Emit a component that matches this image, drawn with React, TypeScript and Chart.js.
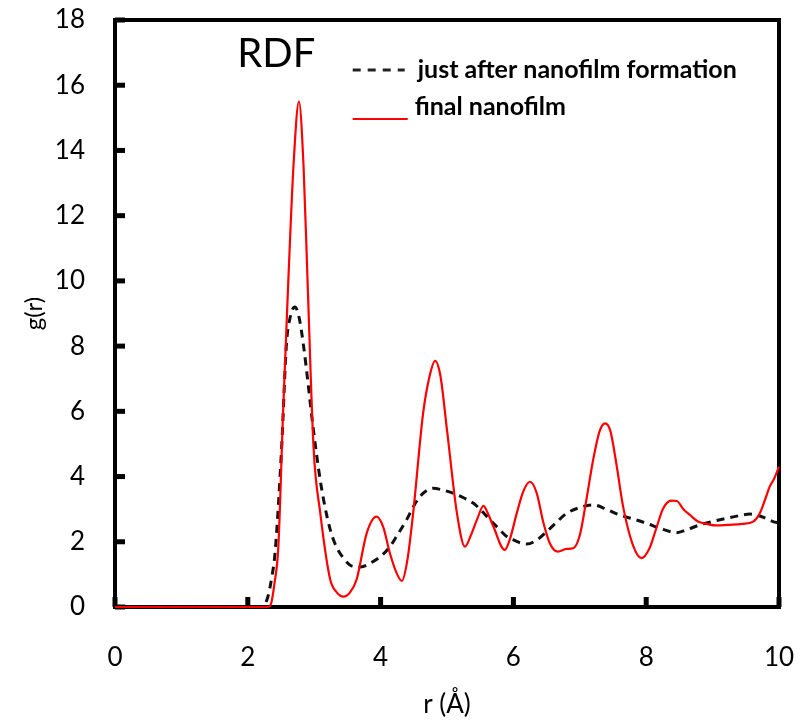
import React, { useEffect, useRef } from "react";
import { Chart, registerables } from "chart.js";

Chart.register(...registerables);

const chartTitle = "RDF";
const xAxisTitle = "r (Å)";
const yAxisTitle = "g(r)";
const xTickValues = [0, 2, 4, 6, 8, 10];
const yTickValues = [0, 2, 4, 6, 8, 10, 12, 14, 16, 18];

const initialLabel = "just after nanofilm formation";
const initialR = [0, 2.22, 2.3, 2.36, 2.41, 2.51, 2.58, 2.64, 2.71, 2.77, 2.84, 2.99, 3.09, 3.19, 3.29, 3.44, 3.59, 3.7, 3.84, 4.0, 4.14, 4.25, 4.39, 4.5, 4.59, 4.7, 4.79, 4.95, 5.09, 5.25, 5.4, 5.52, 5.65, 5.78, 5.9, 6.0, 6.1, 6.2, 6.35, 6.5, 6.65, 6.8, 7.0, 7.2, 7.4, 7.6, 7.8, 8.0, 8.2, 8.46, 8.6, 8.81, 9.0, 9.21, 9.4, 9.56, 9.7, 9.8, 9.91, 10];
const initialG = [0, 0, 0.3, 0.9, 1.65, 4.9, 8.0, 8.9, 9.2, 8.9, 8.0, 5.4, 3.9, 2.8, 2.06, 1.5, 1.24, 1.23, 1.34, 1.55, 1.85, 2.2, 2.67, 3.1, 3.38, 3.58, 3.64, 3.58, 3.49, 3.35, 3.18, 2.95, 2.67, 2.4, 2.16, 2.06, 1.97, 1.93, 2.05, 2.31, 2.6, 2.87, 3.05, 3.13, 3.0, 2.82, 2.7, 2.57, 2.42, 2.28, 2.36, 2.52, 2.62, 2.72, 2.8, 2.85, 2.8, 2.72, 2.62, 2.58];

const finalLabel = "final nanofilm";
const finalR = [0, 2.3, 2.35, 2.4, 2.46, 2.53, 2.61, 2.69, 2.77, 2.84, 2.9, 2.99, 3.09, 3.24, 3.34, 3.44, 3.54, 3.64, 3.79, 3.94, 4.04, 4.14, 4.25, 4.32, 4.4, 4.49, 4.64, 4.74, 4.82, 4.9, 5.0, 5.15, 5.27, 5.36, 5.45, 5.55, 5.62, 5.7, 5.87, 5.95, 6.05, 6.15, 6.25, 6.35, 6.45, 6.55, 6.67, 6.8, 6.9, 7.0, 7.1, 7.2, 7.3, 7.38, 7.46, 7.55, 7.65, 7.8, 7.93, 8.05, 8.15, 8.25, 8.38, 8.46, 8.56, 8.66, 8.78, 8.91, 9.05, 9.26, 9.45, 9.61, 9.71, 9.8, 9.86, 9.93, 10];
const finalG = [0, 0, 0.1, 0.7, 1.85, 5.9, 10.0, 13.6, 15.5, 13.5, 10.0, 4.9, 2.9, 0.85, 0.45, 0.32, 0.45, 0.85, 2.26, 2.77, 2.45, 1.65, 1.0, 0.8, 1.4, 2.87, 5.94, 7.1, 7.55, 7.1, 5.43, 2.87, 1.85, 2.2, 2.67, 3.1, 2.85, 2.46, 1.75, 2.1, 2.87, 3.55, 3.84, 3.5, 2.6, 1.95, 1.7, 1.78, 1.8, 2.2, 3.3, 4.5, 5.4, 5.63, 5.4, 4.4, 3.1, 1.9, 1.5, 1.8, 2.4, 3.0, 3.26, 3.25, 3.0, 2.82, 2.62, 2.55, 2.5, 2.52, 2.55, 2.62, 2.87, 3.35, 3.69, 3.95, 4.3];

const FONT = "Lato, 'Open Sans', sans-serif";

const framePlugin = {
  id: "frameAndDecor",
  beforeDatasetsDraw(chart: any) {
    const { ctx, chartArea, scales } = chart;
    const xs = scales.x;
    const ys = scales.y;
    ctx.save();
    ctx.strokeStyle = "#000";
    ctx.lineWidth = 4;
    ctx.strokeRect(chartArea.left, chartArea.top, chartArea.right - chartArea.left, chartArea.bottom - chartArea.top);
    ctx.lineWidth = 5;
    ctx.lineCap = "butt";
    for (const v of xTickValues) {
      const px = xs.getPixelForValue(v);
      ctx.beginPath();
      ctx.moveTo(px, chartArea.bottom);
      ctx.lineTo(px, chartArea.bottom - 10);
      ctx.stroke();
    }
    for (const v of yTickValues) {
      const py = ys.getPixelForValue(v);
      ctx.beginPath();
      ctx.moveTo(chartArea.left, py);
      ctx.lineTo(chartArea.left + 10, py);
      ctx.stroke();
    }
    ctx.restore();
  },
  afterDatasetsDraw(chart: any) {
    const { ctx, scales } = chart;
    const xs = scales.x;
    ctx.save();
    ctx.fillStyle = "#000";
    ctx.font = `40px ${FONT}`;
    ctx.textAlign = "center";
    ctx.textBaseline = "alphabetic";
    ctx.fillText(chartTitle, xs.getPixelForValue(2.43), 67);
    const lx = xs.getPixelForValue(3.58);
    ctx.textAlign = "left";
    ctx.font = `bold 25px ${FONT}`;
    ctx.setLineDash([8, 7]);
    ctx.lineWidth = 3;
    ctx.strokeStyle = "#222";
    ctx.beginPath();
    ctx.moveTo(lx, 70);
    ctx.lineTo(lx + 52, 70);
    ctx.stroke();
    ctx.setLineDash([]);
    ctx.fillText(chart.data.datasets[1].label, lx + 65, 78);
    ctx.strokeStyle = "#ff0000";
    ctx.lineWidth = 2;
    ctx.beginPath();
    ctx.moveTo(lx, 119);
    ctx.lineTo(lx + 55, 119);
    ctx.stroke();
    ctx.fillText(chart.data.datasets[0].label, lx + 62, 115);
    ctx.restore();
  },
};

export default function App() {
  const ref = useRef<HTMLCanvasElement | null>(null);
  useEffect(() => {
    if (!ref.current) return;
    const chart = new Chart(ref.current, {
      type: "scatter",
      data: {
        datasets: [
          {
            label: finalLabel,
            data: finalR.map((r, i) => ({ x: r, y: finalG[i] })),
            showLine: true,
            borderColor: "#ff0000",
            borderWidth: 2.2,
            pointRadius: 0,
            cubicInterpolationMode: "monotone",
            clip: 4,
            order: 1,
          },
          {
            label: initialLabel,
            data: initialR.map((r, i) => ({ x: r, y: initialG[i] })),
            showLine: true,
            borderColor: "#111",
            borderWidth: 3,
            borderDash: [8, 6],
            pointRadius: 0,
            cubicInterpolationMode: "monotone",
            clip: 4,
            order: 2,
          },
        ],
      },
      options: {
        animation: false,
        responsive: false,
        maintainAspectRatio: false,
        layout: { padding: { top: 20, right: 25, left: 0, bottom: 0 } },
        plugins: { legend: { display: false }, tooltip: { enabled: false } },
        scales: {
          x: {
            type: "linear",
            min: 0,
            max: 10,
            afterBuildTicks: (s: any) => { s.ticks = xTickValues.map((v) => ({ value: v })); },
            ticks: { color: "#000", padding: 35, font: { family: FONT, size: 26 } },
            grid: { display: false, drawTicks: false },
            border: { display: false },
            title: { display: true, text: xAxisTitle, color: "#000", font: { family: FONT, size: 26 }, padding: { top: 0, bottom: 3 } },
            afterFit: (s: any) => { s.height = 116; s.paddingLeft = 0; s.paddingRight = 0; },
          },
          y: {
            type: "linear",
            min: 0,
            max: 18,
            afterBuildTicks: (s: any) => { s.ticks = yTickValues.map((v) => ({ value: v })); },
            ticks: { color: "#000", padding: 30, font: { family: FONT, size: 26 } },
            grid: { display: false, drawTicks: false },
            border: { display: false },
            title: { display: true, text: yAxisTitle, color: "#000", font: { family: FONT, size: 24 }, padding: { top: 20, bottom: 0 } },
            afterFit: (s: any) => { s.width = 115; s.paddingTop = 0; s.paddingBottom = 0; },
          },
        },
      },
      plugins: [framePlugin],
    } as any);
    return () => chart.destroy();
  }, []);
  return (
    <div style={{ position: "fixed", left: 0, top: 0, width: 804, height: 723, background: "#fff" }}>
      <canvas ref={ref} width={804} height={723} style={{ width: 804, height: 723, display: "block" }} />
    </div>
  );
}
